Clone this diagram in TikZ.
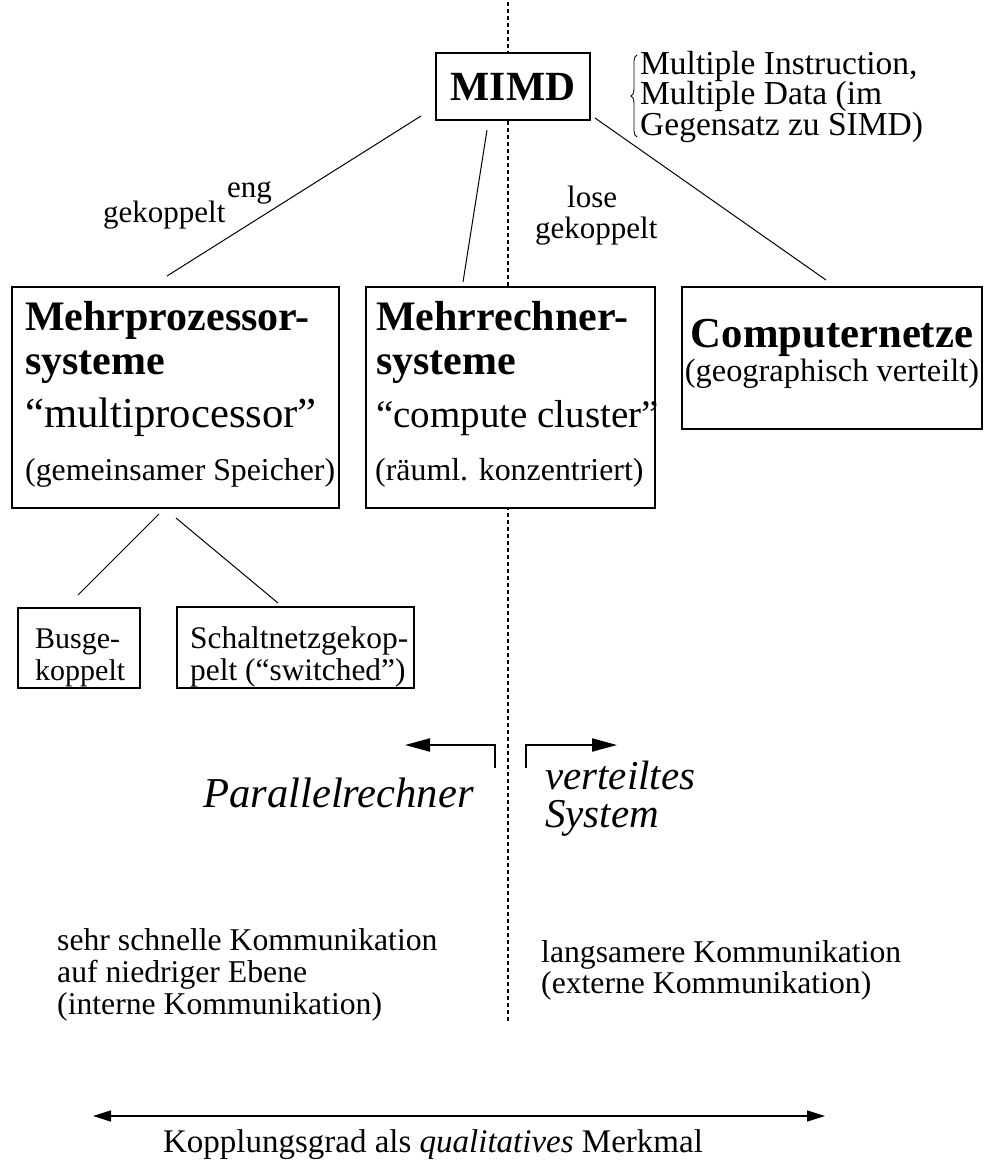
\documentclass[tikz,border=0pt]{standalone}
\usepackage{fontspec}
\setmainfont{Liberation Serif}
\usetikzlibrary{arrows.meta,decorations.pathreplacing}
\newcommand\myfs[1]{\fontsize{#1}{#1}\selectfont}
\begin{document}
\begin{tikzpicture}[x=1pt,y=-1pt,
  txt/.style={inner sep=0pt, anchor=base west},
  ctxt/.style={inner sep=0pt, anchor=base},
  body/.style={font=\myfs{31}},
  big/.style={font=\bfseries\myfs{42}},
  boxn/.style={draw, line width=1.2pt, inner sep=0pt, outer sep=0pt, fill=white, anchor=north west},
  conn/.style={line width=1pt},
  divider/.style={line width=1.2pt, dash pattern=on 4pt off 3pt},
  bracket/.style={line width=2pt, -{Triangle[length=25pt,width=13pt]}},
  scale arrow/.style={line width=1.5pt, {Triangle[length=18pt,width=11pt]}-{Triangle[length=18pt,width=11pt]}}
]
\useasboundingbox (0,0) rectangle (984,1160);

% dashed divider
\coordinate (dtop) at (508,2);
\coordinate (dbot) at (508,1021);
\draw[divider] (dtop) -- (dbot);

% MIMD
\node[boxn, anchor=center, minimum width=154pt, minimum height=67pt,
      font=\bfseries\myfs{41.5}] (mimd) at (513,86.5) {MIMD};
\coordinate (bb) at (637,137);
\coordinate (bt) at (637,55);
\draw[decorate, decoration={brace, amplitude=6pt}, line width=0.8pt] (bb) -- (bt);
\node[txt, font=\myfs{33.5}] (mi1) at (640,74) {Multiple Instruction,};
\node[txt, font=\myfs{33.5}] (mi2) at (640,104.5) {Multiple Data (im};
\node[txt, font=\myfs{33.5}] (mi3) at (640,135) {Gegensatz zu SIMD)};

% level-2 boxes
\node[boxn, minimum width=327pt, minimum height=221pt] (mp) at (12,287) {};
\node[boxn, minimum width=289pt, minimum height=221pt] (mr) at (366,287) {};
\node[boxn, minimum width=300pt, minimum height=142pt] (cn) at (682,287) {};

\node[txt, big] (mp1) at (25,330) {Mehrprozessor-};
\node[txt, big] (mp2) at (25,374) {systeme};
\node[txt, font=\myfs{42.7}] (mp3) at (25,427) {“multiprocessor”};
\node[txt, font=\myfs{31.8}] (mp4) at (25,480) {(gemeinsamer Speicher)};

\node[txt, big] (mr1) at (376,330) {Mehrrechner-};
\node[txt, big] (mr2) at (376,374) {systeme};
\node[txt, font=\myfs{39}] (mr3) at (376,427) {“compute cluster”};
\node[txt, font=\myfs{31.9}] (mr4) at (375,480) {(räuml. konzentriert)};

\node[ctxt, font=\bfseries\myfs{42.7}] (cn1) at (832,347) {Computernetze};
\node[ctxt, font=\myfs{32.4}] (cn2) at (832,381) {(geographisch verteilt)};

% connectors from MIMD
\coordinate (m1a) at (421,116); \coordinate (m1b) at (167,276);
\coordinate (m2a) at (487,130); \coordinate (m2b) at (463,282);
\coordinate (m3a) at (595,118); \coordinate (m3b) at (826,280);
\draw[conn] (m1a) -- (m1b);
\draw[conn] (m2a) -- (m2b);
\draw[conn] (m3a) -- (m3b);

\node[txt, body] (eng) at (227,197) {eng};
\node[txt, body] (gk1) at (103,222) {gekoppelt};
\node[txt, body] (lose) at (567,207) {lose};
\node[txt, body] (gk2) at (535,238) {gekoppelt};

% level-3 boxes
\node[boxn, minimum width=122pt, minimum height=80pt] (bus) at (18,608) {};
\node[boxn, minimum width=237pt, minimum height=81pt] (sw) at (177,607) {};
\node[txt, font=\myfs{30}] (bus1) at (35,648) {Busge-};
\node[txt, font=\myfs{30}] (bus2) at (35,680) {koppelt};
\node[txt, font=\myfs{31.4}] (sw1) at (190,648) {Schaltnetzgekop-};
\node[txt, font=\myfs{31.4}] (sw2) at (190,680) {pelt (“switched”)};

\coordinate (b1a) at (159,514); \coordinate (b1b) at (78,595);
\coordinate (b2a) at (176,518); \coordinate (b2b) at (278,603);
\draw[conn] (b1a) -- (b1b);
\draw[conn] (b2a) -- (b2b);

% bracket arrows
\coordinate (la) at (495,768); \coordinate (lc) at (495,745); \coordinate (lt) at (405,745);
\coordinate (ra) at (526,768); \coordinate (rc) at (526,745); \coordinate (rt) at (617,745);
\draw[bracket] (la) -- (lc) -- (lt);
\draw[bracket] (ra) -- (rc) -- (rt);

\node[txt, font=\itshape\myfs{42.6}] (par) at (203,807) {Parallelrechner};
\node[txt, font=\itshape\myfs{41}] (vs1) at (545,789) {verteiltes};
\node[txt, font=\itshape\myfs{41}] (vs2) at (545,827) {System};

% communication notes
\node[txt, font=\myfs{31.7}] (k1) at (57,950) {sehr schnelle Kommunikation};
\node[txt, font=\myfs{31.7}] (k2) at (57,982) {auf niedriger Ebene};
\node[txt, font=\myfs{31.7}] (k3) at (57,1014) {(interne Kommunikation)};
\node[txt, font=\myfs{31.7}] (k4) at (541,962) {langsamere Kommunikation};
\node[txt, font=\myfs{31.7}] (k5) at (541,993) {(externe Kommunikation)};

% bottom scale
\coordinate (ka) at (93,1116); \coordinate (kb) at (825,1116);
\draw[scale arrow] (ka) -- (kb);
\node[ctxt, font=\myfs{33}] (kg) at (433,1152) {Kopplungsgrad als \textit{qualitatives} Merkmal};
\end{tikzpicture}
\end{document}
